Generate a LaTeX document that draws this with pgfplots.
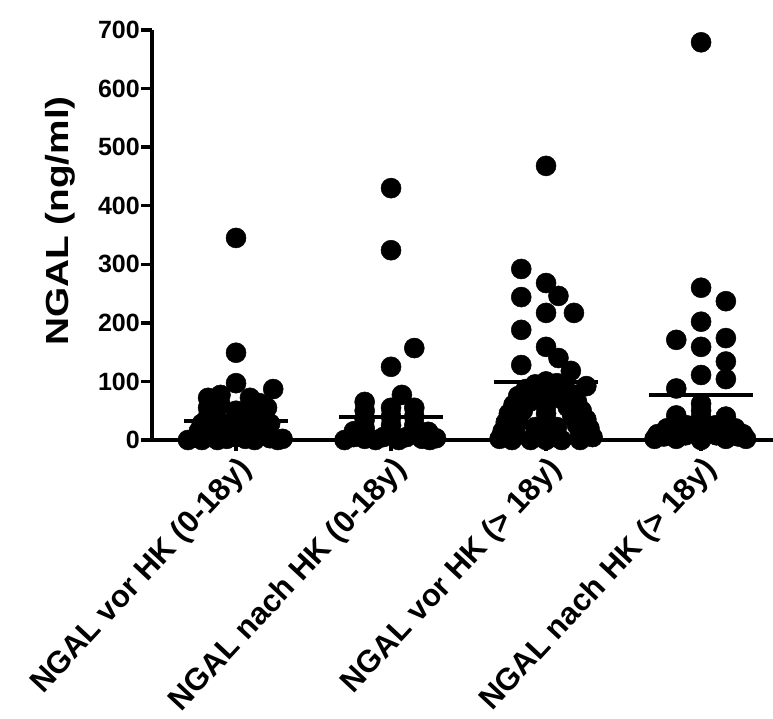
\documentclass[border=0pt]{standalone}
\usepackage{fontspec}
\setmainfont{Liberation Sans}
\usepackage{pgfplots}
\pgfplotsset{compat=1.18}
\pgfplotsset{
  dots/.style={only marks, mark=*, mark size=10pt, mark options={fill=black, draw=black, line width=0.5pt}},
  meanline/.style={no marks, black, line width=4pt},
}

\begin{document}
\begin{tikzpicture}
\begin{axis}[
    scale only axis,
    width=621pt, height=410pt,
    xmin=0.458, xmax=4.464,
    ymin=0, ymax=700,
    axis x line=bottom, axis y line=left,
    axis line style={-, line width=4.5pt},
    clip=false,
    xtick={1,2,3,4},
    xticklabels={NGAL vor HK (0-18y), NGAL nach HK (0-18y), NGAL vor HK (> 18y), NGAL nach HK (> 18y)},
    ytick={0,100,...,700},
    tick align=outside,
    major tick length=11pt,
    tick style={line width=3.5pt, black},
    /pgf/number format/assume math mode=true,
    yticklabel style={font=\fontsize{25}{25}\selectfont\bfseries, inner sep=1pt},
    xticklabel style={font=\fontsize{31}{31}\selectfont\bfseries, rotate=47, anchor=east, inner sep=0pt, yshift=-17pt, xshift=-3pt},
    ylabel={\scalebox{1.14}[0.94]{NGAL (ng/ml)}},
    ylabel style={font=\fontsize{34}{34}\selectfont\bfseries, at={(axis description cs:-0.147,0.534)}, anchor=center},
]
% group 1: NGAL vor HK (0-18y)
\addplot[dots] coordinates {
(1,345) (1,149) (1,97) (1.24,87)
(0.82,72) (0.9,77) (1.09,72) (1.15,63) (1.2,55)
(0.82,55) (0.9,60) (1.1,55)
(1,50) (1,35) (1,20) (1,5)
(0.82,40) (0.82,25) (0.82,10) (0.9,30) (0.9,15)
(1.15,40) (1.15,25) (1.15,10) (1.08,30) (1.08,15)
(0.69,0) (0.74,4) (0.78,0) (0.88,0) (0.94,2) (1.06,2) (1.12,0) (1.22,3) (1.27,0) (1.3,2)
(1.2,15) (1.22,28) (0.76,15) (0.78,28)
};
% group 2: NGAL nach HK (0-18y)
\addplot[dots] coordinates {
(2,430) (2,324) (2.15,157) (2,125) (2.07,77)
(1.83,65) (1.83,50) (1.83,35) (1.83,20)
(2,55) (2,40) (2,25) (2,10)
(2.15,55) (2.15,40) (2.15,25)
(1.7,0) (1.76,5) (1.83,2) (1.9,0) (1.95,5) (2.05,0) (2.1,5) (2.2,2) (2.25,0) (2.29,3)
(1.76,15) (2.24,14)
};
% group 3: NGAL vor HK (> 18y)
\addplot[dots] coordinates {
(3,468) (2.84,292) (3,268) (3.08,246) (2.84,244) (3,217) (3.18,217)
(2.84,188) (3,159) (3.08,140) (2.84,128) (3.16,118) (3.26,92)
(2.7,2) (2.72,15) (2.74,30) (2.76,45) (2.79,60) (2.82,75) (2.87,87) (2.93,95) (3,100)
(3.07,97) (3.12,88) (3.17,78) (3.2,65) (3.23,50) (3.26,35) (3.28,20) (3.3,5)
(2.78,0) (2.8,15) (2.82,32) (2.85,50) (2.9,66) (2.96,78) (3.04,80) (3.1,70)
(3.14,56) (3.17,40) (3.2,25) (3.22,10) (3.22,0)
(3,0) (3,15) (3,30) (3,45) (3,58)
(2.93,5) (2.93,22) (3.07,5) (3.07,22) (2.9,0) (3.1,0)
};
% group 4: NGAL nach HK (> 18y)
\addplot[dots] coordinates {
(4,679) (4,260) (4.16,237) (4,202) (3.84,171) (4,159) (4.16,174)
(4.16,134) (4,111) (4.16,104) (3.84,88)
(4,0) (4,12) (4,25) (4,38) (4,50) (4,62)
(3.84,42) (3.84,28) (3.84,14) (3.84,2) (3.78,20) (3.76,6) (3.7,2) (3.72,10) (3.9,8) (3.91,25)
(4.16,40) (4.16,28) (4.16,14) (4.16,2) (4.22,20) (4.24,6) (4.29,2) (4.27,10) (4.1,8) (4.09,25)
};
% mean lines
\addplot[meanline] coordinates {(0.665,32) (1.335,32)};
\addplot[meanline] coordinates {(1.665,39) (2.335,39)};
\addplot[meanline] coordinates {(2.665,99) (3.335,99)};
\addplot[meanline] coordinates {(3.665,77) (4.335,77)};
\end{axis}
\pgfresetboundingbox
\path (current axis.south west) ++(-152pt,-278pt) rectangle ++(773pt,718pt);
\end{tikzpicture}
\end{document}
